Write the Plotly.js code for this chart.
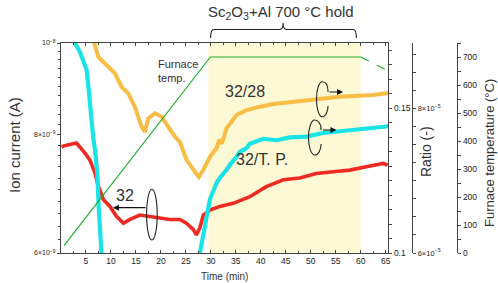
<!DOCTYPE html>
<html>
<head>
<meta charset="utf-8">
<script src="https://cdn.plot.ly/plotly-3.0.1.min.js"></script>
<style>html,body{margin:0;padding:0;background:#fff;}#chart{width:498px;height:283px;}</style>
</head>
<body>
<div id="chart"></div>
<script>
// ---- data ----
const time32 = [0.1, 1.1, 3.1, 3.8, 4.8, 5.8, 6.8, 7.5, 8.5, 9.8, 11.1, 12.5, 13.8, 15.8, 17.8, 19.8, 21.8, 23.8, 25.1, 26.5, 27.1, 27.8, 28.5, 29.8, 31.8, 34.5, 37.1, 37.8, 41.1, 44.5, 47.8, 51.1, 54.5, 57.8, 61.1, 64.5, 65.4];
const ion32 = [7.77e-9, 7.80e-9, 7.84e-9, 7.77e-9, 7.65e-9, 7.52e-9, 7.29e-9, 7.05e-9, 6.83e-9, 6.72e-9, 6.56e-9, 6.45e-9, 6.51e-9, 6.58e-9, 6.56e-9, 6.53e-9, 6.51e-9, 6.51e-9, 6.45e-9, 6.35e-9, 6.27e-9, 6.38e-9, 6.58e-9, 6.66e-9, 6.72e-9, 6.77e-9, 6.86e-9, 6.88e-9, 7.05e-9, 7.17e-9, 7.20e-9, 7.28e-9, 7.31e-9, 7.34e-9, 7.40e-9, 7.46e-9, 7.43e-9];

const time3228 = [6.5, 6.66, 7.46, 8.8, 10.8, 12.14, 13.46, 14.8, 16.14, 16.8, 17.46, 18.8, 20.14, 21.46, 22.8, 23.8, 25.14, 26.8, 27.6, 28.46, 29.8, 31.14, 31.7, 32.2, 33.14, 35.14, 37.14, 39.14, 42.46, 45.8, 49.14, 52.46, 55.8, 59.14, 62.46, 65.14, 65.5];
const ratio3228 = [0.1735, 0.1724, 0.1678, 0.1655, 0.1621, 0.1574, 0.1552, 0.1505, 0.1436, 0.1419, 0.1465, 0.1483, 0.1471, 0.1436, 0.1402, 0.1384, 0.1322, 0.1281, 0.1263, 0.1287, 0.1332, 0.1363, 0.1392, 0.1378, 0.1431, 0.1477, 0.1494, 0.1503, 0.1515, 0.1521, 0.1529, 0.1534, 0.1540, 0.1543, 0.1546, 0.1552, 0.1555];

const timeTP = [2.6, 2.8, 3.8, 4.46, 5.14, 5.46, 5.8, 6.14, 6.46, 6.8, 7.26, 7.54, 7.8, 8.14, null, 27.7, 27.8, 28.46, 29.14, 29.8, 31.14, 31.8, 33.14, 33.8, 35.14, 35.8, 37.14, 37.8, 40.46, 43.14, 45.8, 49.14, 52.46, 55.8, 59.14, 62.46, 65.14, 65.5];
const ratioTP = [9.0e-5, 8.90e-5, 8.78e-5, 8.67e-5, 8.53e-5, 8.32e-5, 8.05e-5, 7.83e-5, 7.59e-5, 7.43e-5, 7.11e-5, 6.64e-5, 6.28e-5, 5.96e-5, null, 5.96e-5, 6.00e-5, 6.28e-5, 6.51e-5, 6.74e-5, 6.97e-5, 7.04e-5, 7.15e-5, 7.22e-5, 7.33e-5, 7.40e-5, 7.45e-5, 7.51e-5, 7.58e-5, 7.56e-5, 7.60e-5, 7.61e-5, 7.66e-5, 7.68e-5, 7.70e-5, 7.72e-5, 7.75e-5, 7.76e-5];

const tempTime = [0.6, 29.9, 60];
const tempC = [26, 700, 700];
const coolTime = [60, 65.5];
const coolC = [700, 650];

const holdStart = 29.5, holdEnd = 60;

const xTicks = [5, 10, 15, 20, 25, 30, 35, 40, 45, 50, 55, 60, 65];
const ionTicks = [6e-9, 8e-9, 1e-8];
const ionTickText = ['6×10<sup>−9</sup>', '8×10<sup>−9</sup>', '10<sup>−8</sup>'];
const ratioTicks = [0.1, 0.15];
const ratioTickText = ['0.1', '0.15'];
const tpTicks = [6e-5, 8e-5];
const tpTickText = ['6×10<sup>−5</sup>', '8×10<sup>−5</sup>'];
const tempTicks = [0, 100, 200, 300, 400, 500, 600, 700];

// ---- layout geometry ----
const W = 498, H = 283, ML = 61, MR = 10, MT = 43, MB = 30;
const plotW = W - ML - MR;
const xEnd = 327 / plotW;
const py = p => (H - MB - p) / (H - MT - MB); // pixel y -> paper y
const px = p => (p - ML) / plotW;              // pixel x -> paper x
const bx = p => (p - ML) / 5;                  // pixel x -> minutes

const ionMinor = [];
for (let k = 31; k < 50; k++) ionMinor.push(k * 2e-10);

const FONT = 'Arial, "Liberation Sans", sans-serif';
const AX = '#444';

const traces = [
  {x: time3228, y: ratio3228, yaxis: 'y2', mode: 'lines', line: {color: '#f7bd45', width: 4}, hoverinfo: 'skip'},
  {x: timeTP, y: ratioTP, yaxis: 'y3', mode: 'lines', connectgaps: false, line: {color: '#19e3e6', width: 4.2}, hoverinfo: 'skip'},
  {x: time32, y: ion32, yaxis: 'y', mode: 'lines', line: {color: '#ee2a22', width: 3.6}, hoverinfo: 'skip'},
  {x: tempTime, y: tempC, yaxis: 'y4', mode: 'lines', line: {color: '#1fae2c', width: 1.2}, hoverinfo: 'skip'},
  {x: coolTime, y: coolC, yaxis: 'y4', mode: 'lines', line: {color: '#1fae2c', width: 1.2, dash: 'dash'}, hoverinfo: 'skip'}
];

const ellipseOpen = (cx, cyPx, rx, ry, gapTop, gapBot) => {
  const k = 0.5523;
  const X = p => bx(p);
  const Y = p => py(p);
  const x0 = cx + rx, xl = cx - rx, top = cyPx - ry, bot = cyPx + ry;
  return `M ${X(x0)},${Y(gapTop)} C ${X(x0)},${Y(top + ry * 0.2)} ${X(cx + rx * k)},${Y(top)} ${X(cx)},${Y(top)} ` +
         `C ${X(cx - rx * k)},${Y(top)} ${X(xl)},${Y(cyPx - ry * k)} ${X(xl)},${Y(cyPx)} ` +
         `C ${X(xl)},${Y(cyPx + ry * k)} ${X(cx - rx * k)},${Y(bot)} ${X(cx)},${Y(bot)} ` +
         `C ${X(cx + rx * k)},${Y(bot)} ${X(x0)},${Y(bot - ry * 0.3)} ${X(x0)},${Y(gapBot)}`;
};

const bracket = `M ${bx(210.7)},${py(38)} Q ${bx(210.7)},${py(29.5)} ${bx(214)},${py(29.5)} L ${bx(280)},${py(29.5)} Q ${bx(283.3)},${py(29.5)} ${bx(283.3)},${py(23)} Q ${bx(283.3)},${py(29.5)} ${bx(286.6)},${py(29.5)} L ${bx(353.4)},${py(29.5)} Q ${bx(356.7)},${py(29.5)} ${bx(356.7)},${py(38)}`;

const shapes = [
  {type: 'rect', xref: 'x', yref: 'paper', x0: holdStart, x1: holdEnd, y0: 0, y1: 1, fillcolor: '#fcf9d4', line: {width: 0}, layer: 'below'},
  {type: 'path', xref: 'x', yref: 'paper', path: bracket, line: {color: '#222', width: 1.1}},
  {type: 'circle', xref: 'x', yref: 'paper', x0: bx(146.7), x1: bx(157.3), y0: py(240), y1: py(189.3), line: {color: '#222', width: 1.1}},
  {type: 'path', xref: 'x', yref: 'paper', path: ellipseOpen(322.5, 99.2, 5.8, 17.5, 92, 106), line: {color: '#222', width: 1.1}},
  {type: 'path', xref: 'x', yref: 'paper', path: ellipseOpen(315, 137.5, 6.3, 17.5, 130, 144), line: {color: '#222', width: 1.1}}
];

const tFont = {family: FONT, color: '#333'};
const lab = (o) => Object.assign({showarrow: false, xanchor: 'center', yanchor: 'middle'}, o);
const annotations = [
  lab({xref: 'x', yref: 'paper', x: bx(281.5), y: py(12), text: 'Sc<sub>2</sub>O<sub>3</sub>+Al 700 °C hold', font: Object.assign({size: 15}, tFont)}),
  lab({xref: 'x', yref: 'paper', x: bx(156.5), y: py(70.5), xanchor: 'left', align: 'left', text: 'Furnace<br>temp.', font: Object.assign({size: 11}, tFont)}),
  lab({xref: 'x', yref: 'paper', x: bx(245.5), y: py(91.7), text: '32/28', font: Object.assign({size: 16}, tFont)}),
  lab({xref: 'x', yref: 'paper', x: bx(262.5), y: py(159), text: '32/T. P.', font: Object.assign({size: 16}, tFont)}),
  lab({xref: 'x', yref: 'paper', x: bx(125), y: py(195), text: '32', font: Object.assign({size: 16}, tFont)}),
  lab({xref: 'x', yref: 'paper', x: bx(225), y: py(276.5), text: 'Time (min)', font: Object.assign({size: 10}, tFont)}),
  lab({xref: 'paper', yref: 'paper', x: px(14), y: py(145), text: 'Ion current (A)', textangle: -90, font: Object.assign({size: 15}, tFont)}),
  lab({xref: 'paper', yref: 'paper', x: px(426), y: py(152), text: 'Ratio (-)', textangle: -90, font: Object.assign({size: 14}, tFont)}),
  lab({xref: 'paper', yref: 'paper', x: px(489), y: py(153), text: 'Furnace temperature (°C)', textangle: -90, font: Object.assign({size: 13}, tFont)}),
  {xref: 'x', yref: 'paper', x: bx(113), y: py(207.7), ax: 34, ay: 0, text: '', showarrow: true, arrowhead: 2, arrowsize: 1, arrowwidth: 1.2, arrowcolor: '#111'},
  {xref: 'x', yref: 'paper', x: bx(343.3), y: py(92), ax: -15, ay: 0, text: '', showarrow: true, arrowhead: 2, arrowsize: 1, arrowwidth: 1.2, arrowcolor: '#111'},
  {xref: 'x', yref: 'paper', x: bx(336.7), y: py(130), ax: -15, ay: 0, text: '', showarrow: true, arrowhead: 2, arrowsize: 1, arrowwidth: 1.2, arrowcolor: '#111'}
];

const common = {showgrid: false, zeroline: false, showline: true, linecolor: AX, linewidth: 1.2, tickcolor: AX, ticklen: 3};

const layout = {
  width: W, height: H,
  margin: {l: ML, r: MR, t: MT, b: MB, pad: 0},
  paper_bgcolor: '#fff', plot_bgcolor: 'rgba(0,0,0,0)',
  showlegend: false,
  font: {family: FONT, color: '#222'},
  xaxis: Object.assign({}, common, {
    domain: [0, xEnd], range: [0, 65.46], mirror: 'ticks', ticks: 'inside',
    tickmode: 'array', tickvals: xTicks, ticktext: xTicks.map(String),
    tickfont: {size: 8.5, color: '#222'},
    minor: {dtick: 2.5, ticks: 'inside', ticklen: 2, tickcolor: AX}
  }),
  yaxis: Object.assign({}, common, {
    type: 'log', range: [Math.log10(6e-9), -8], ticks: 'outside',
    tickmode: 'array', tickvals: ionTicks, ticktext: ionTickText,
    tickfont: {size: 7, color: '#222'},
    minor: {tickmode: 'array', tickvals: ionMinor, ticks: 'outside', ticklen: 2, tickcolor: AX}
  }),
  yaxis2: Object.assign({}, common, {
    overlaying: 'y', side: 'right', anchor: 'x', range: [0.1, 0.1726], ticks: 'outside',
    tickmode: 'array', tickvals: ratioTicks, ticktext: ratioTickText,
    tickfont: {size: 8.5, color: '#222'},
    minor: {dtick: 0.005, ticks: 'outside', ticklen: 3, tickcolor: AX}
  }),
  yaxis3: Object.assign({}, common, {
    overlaying: 'y', side: 'right', anchor: 'free', position: px(412), range: [6e-5, 8.905e-5], ticks: 'outside',
    tickmode: 'array', tickvals: tpTicks, ticktext: tpTickText,
    tickfont: {size: 7.5, color: '#222'},
    minor: {dtick: 0.25e-5, ticks: 'outside', ticklen: 3, tickcolor: AX}
  }),
  yaxis4: Object.assign({}, common, {
    overlaying: 'y', side: 'right', anchor: 'free', position: px(457), range: [0, 750], ticks: 'outside',
    tickmode: 'array', tickvals: tempTicks, ticktext: tempTicks.map(String),
    tickfont: {size: 8.5, color: '#222'},
    minor: {dtick: 50, ticks: 'outside', ticklen: 3, tickcolor: AX}
  }),
  shapes: shapes,
  annotations: annotations
};

Plotly.newPlot('chart', traces, layout, {staticPlot: true, displayModeBar: false});
</script>
</body>
</html>
